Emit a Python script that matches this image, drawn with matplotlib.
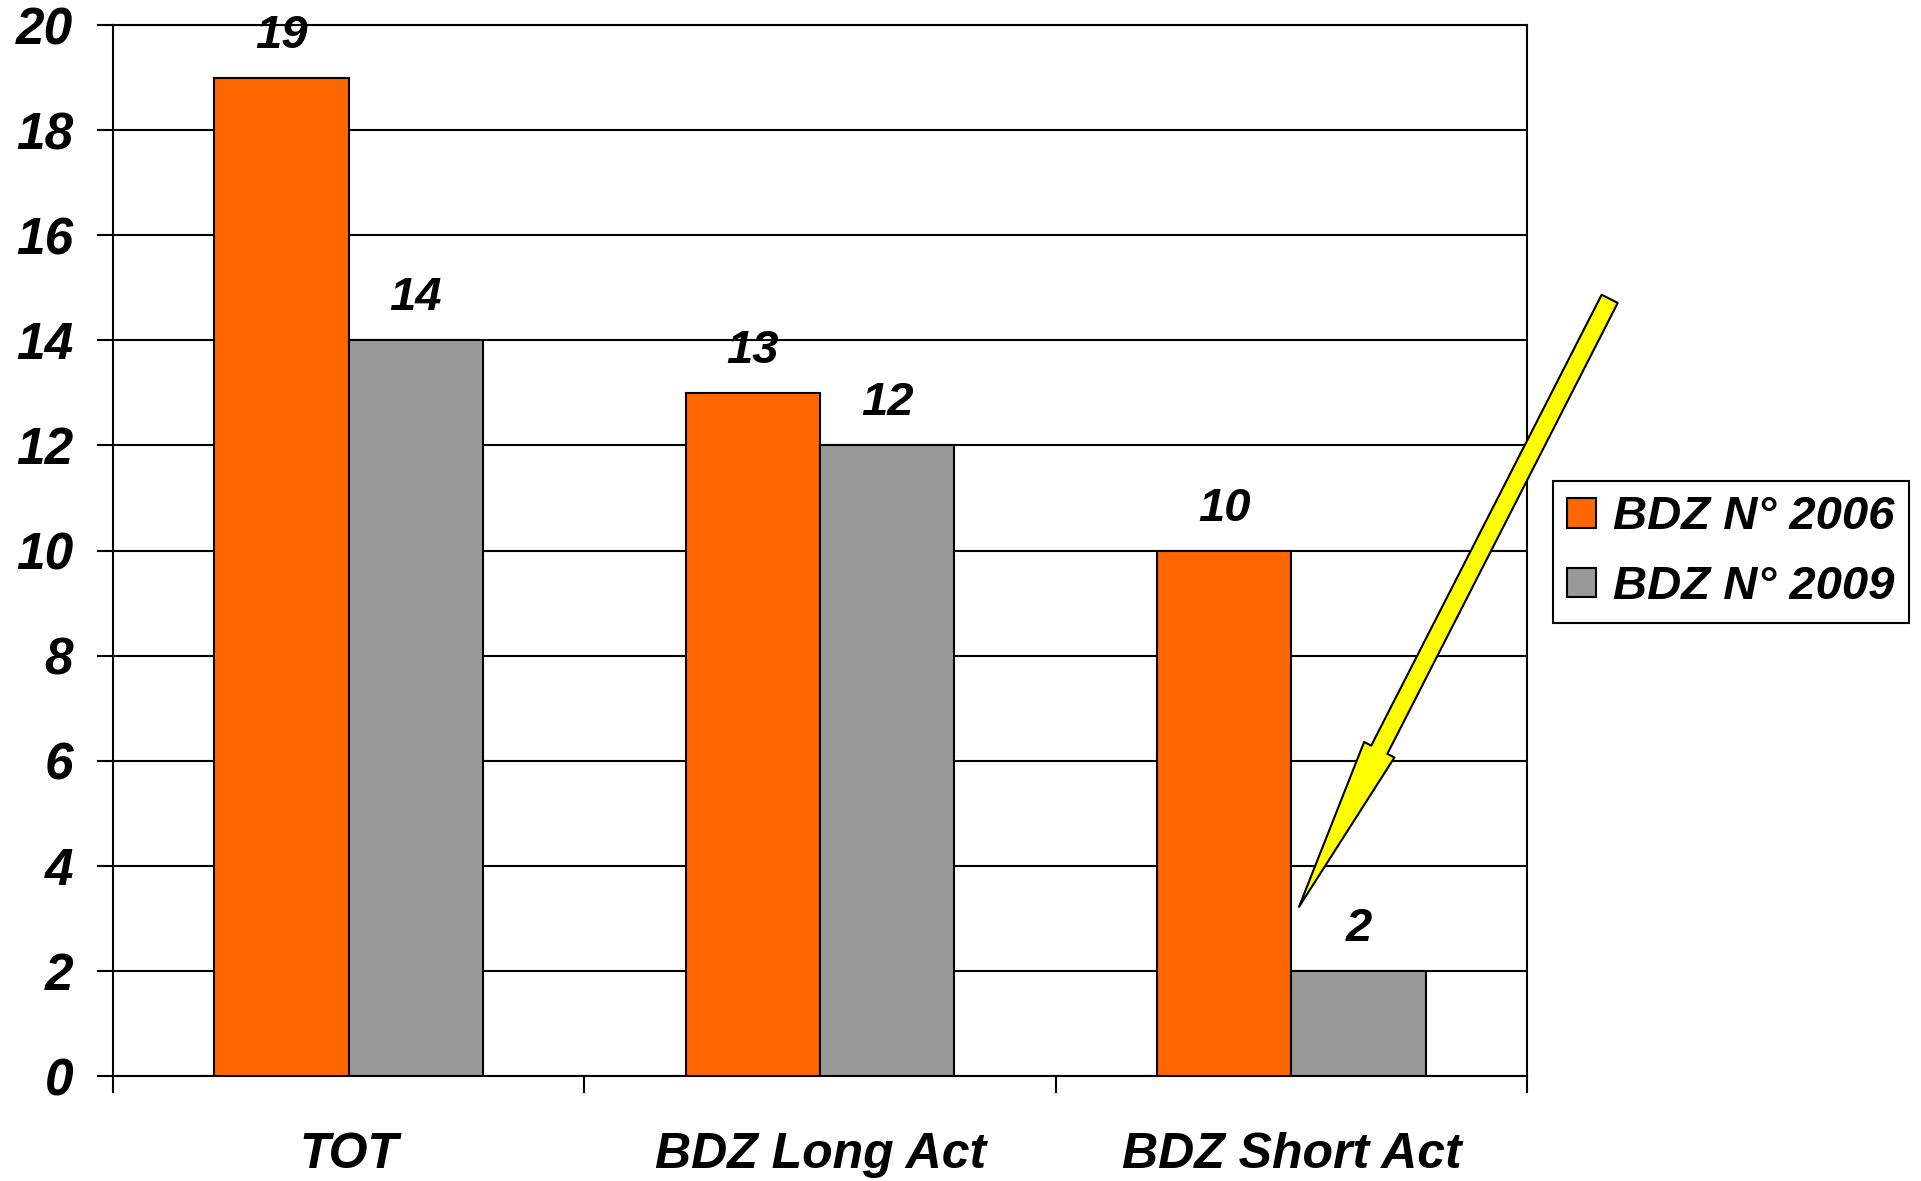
import matplotlib.pyplot as plt
from matplotlib.patches import FancyArrowPatch, ArrowStyle
from matplotlib.ticker import FixedLocator

plt.rcParams['font.family'] = ['Liberation Sans', 'DejaVu Sans']
plt.rcParams['font.weight'] = 'bold'
plt.rcParams['font.style'] = 'italic'

# dati
categorie = ['TOT', 'BDZ Long Act', 'BDZ Short Act']
serie_2006 = [19, 13, 10]
serie_2009 = [14, 12, 2]
etichette_serie = ['BDZ N° 2006', 'BDZ N° 2009']
colori = ['#FF6600', '#999999']
tick_y = list(range(0, 21, 2))

fig = plt.figure(figsize=(19.21, 11.81), dpi=100)
ax = fig.add_axes([0.0588, 0.0889, 0.7362, 0.8899])

larghezza = 0.285
x = list(range(len(categorie)))
for i, (valori, nome, col) in enumerate(zip([serie_2006, serie_2009], etichette_serie, colori)):
    pos = [xi + (i - 0.5) * larghezza for xi in x]
    ax.bar(pos, valori, width=larghezza, color=col, edgecolor='black',
           linewidth=1.5, label=nome, zorder=3)
    for p, v in zip(pos, valori):
        ax.text(p, v + 0.38, str(v), ha='center', va='bottom', fontsize=34,
                fontweight='bold', fontstyle='italic')

ax.set_xlim(-0.5, len(categorie) - 0.5)
ax.set_ylim(0, 20)
ax.set_yticks(tick_y)
ax.set_xticks(x)
ax.set_xticklabels(categorie)
ax.xaxis.set_minor_locator(FixedLocator([k - 0.5 for k in range(len(categorie) + 1)]))

ax.yaxis.grid(True, color='black', linewidth=1.5)
ax.set_axisbelow(True)
for s in ax.spines.values():
    s.set_linewidth(1.5)

ax.tick_params(axis='y', direction='out', length=11.5, width=1.5, pad=17, labelsize=37)
ax.tick_params(axis='x', which='major', length=0, pad=40, labelsize=36)
ax.tick_params(axis='x', which='minor', direction='out', length=12, width=1.5)

# freccia gialla verso la colonna 2009 dei BDZ a breve durata
freccia = FancyArrowPatch(
    posA=(2.675, 14.79), posB=(2.016, 3.22),
    arrowstyle=ArrowStyle.Simple(head_length=127, head_width=24.5, tail_width=13),
    mutation_scale=1, shrinkA=0, shrinkB=0,
    facecolor='#FFFF00', edgecolor='black', linewidth=1.5,
    clip_on=False, zorder=10)
ax.add_patch(freccia)

leg = fig.legend(loc='upper left', bbox_to_anchor=(1553 / 1921, 1 - 481 / 1181),
                 borderaxespad=0, fontsize=34, frameon=True, fancybox=False,
                 framealpha=1, edgecolor='black', handlelength=0.62,
                 handleheight=0.6, handletextpad=0.36, borderpad=0.3,
                 labelspacing=0.55)
leg.get_frame().set_linewidth(1.5)

plt.savefig('out.png', dpi=100)
